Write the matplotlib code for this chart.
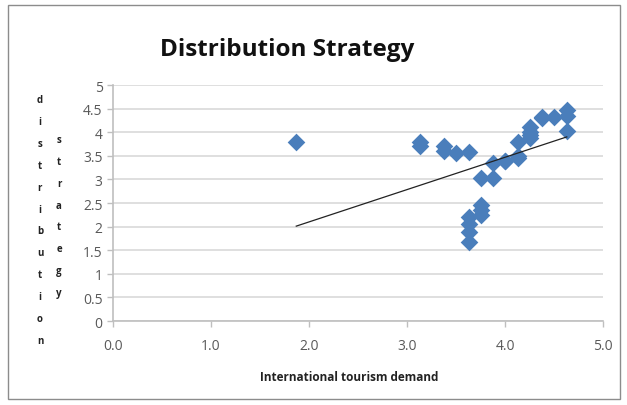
import matplotlib.pyplot as plt
from matplotlib.patches import Rectangle

# international tourism demand vs distribution strategy
demand = [1.87, 3.13, 3.13, 3.38, 3.38, 3.50, 3.63, 3.63, 3.63, 3.63, 3.63,
          3.75, 3.75, 3.75, 3.75, 3.88, 3.88, 4.00, 4.00, 4.13, 4.13, 4.13,
          4.25, 4.25, 4.25, 4.25, 4.38, 4.38, 4.50, 4.63, 4.63, 4.63]
strategy = [3.80, 3.80, 3.70, 3.70, 3.60, 3.55, 3.57, 2.20, 2.05, 1.88, 1.67,
            3.02, 2.45, 2.35, 2.25, 3.02, 3.35, 3.40, 3.40, 3.45, 3.50, 3.80,
            3.87, 4.00, 4.10, 3.95, 4.30, 4.33, 4.33, 4.47, 4.35, 4.02]

# linear trend line end points
trend_x = [1.87, 4.63]
trend_y = [2.01, 3.90]

x_ticks = [0, 1, 2, 3, 4, 5]
y_ticks = [0, 0.5, 1, 1.5, 2, 2.5, 3, 3.5, 4, 4.5, 5]
y_tick_labels = ['0', '0.5', '1', '1.5', '2', '2.5', '3', '3.5', '4', '4.5', '5']

fig = plt.figure(figsize=(6.27, 4.06), dpi=100)
ax = fig.add_axes([113/627, 1 - 322/406, 490/627, 236/406])

# chart border
fig.patches.append(Rectangle((8/627, 6/406), 612/627, 394/406, transform=fig.transFigure,
                             fill=False, edgecolor='#8c8c8c', linewidth=1))

ax.scatter(demand, strategy, marker='D', s=9**2, color='#4a7ebb', zorder=3, linewidths=0)
ax.plot(trend_x, trend_y, color='#222222', linewidth=0.9, zorder=4)

ax.set_xlim(0, 5)
ax.set_ylim(0, 5)
ax.set_xticks(x_ticks)
ax.set_xticklabels([f'{t:.1f}' for t in x_ticks])
ax.set_yticks(y_ticks)
ax.set_yticklabels(y_tick_labels)

ax.yaxis.grid(True, color='#d9d9d9', linewidth=1.2)
ax.set_axisbelow(True)
for s in ['top', 'right']:
    ax.spines[s].set_visible(False)
for s in ['left', 'bottom']:
    ax.spines[s].set_color('#bfbfbf')
    ax.spines[s].set_linewidth(1.2)
ax.tick_params(colors='#bfbfbf', labelcolor='#595959', labelsize=10, length=4, width=1)
for lab in ax.get_xticklabels() + ax.get_yticklabels():
    lab.set_family('Open Sans')
ax.tick_params(axis='x', pad=8)

fig.text(287/627, 1 - 50/406, 'Distribution Strategy', ha='center', va='center',
         fontsize=17.5, fontweight='bold', family='Open Sans', color='#111111')
fig.text(349/627, 1 - 378/406, 'International tourism demand', ha='center', va='center',
         fontsize=8.5, fontweight='bold', family='Open Sans', color='#222222')

# stacked vertical y-axis title
fig.text(40/627, 1 - 221/406, '\n'.join('distribution'), ha='center', va='center',
         fontsize=7, fontweight='bold', family='Open Sans', color='#222222', linespacing=2.36)
fig.text(59/627, 1 - 217/406, '\n'.join('strategy'), ha='center', va='center',
         fontsize=7, fontweight='bold', family='Open Sans', color='#222222', linespacing=2.36)

fig.savefig('out.png', dpi=100, facecolor='white')
